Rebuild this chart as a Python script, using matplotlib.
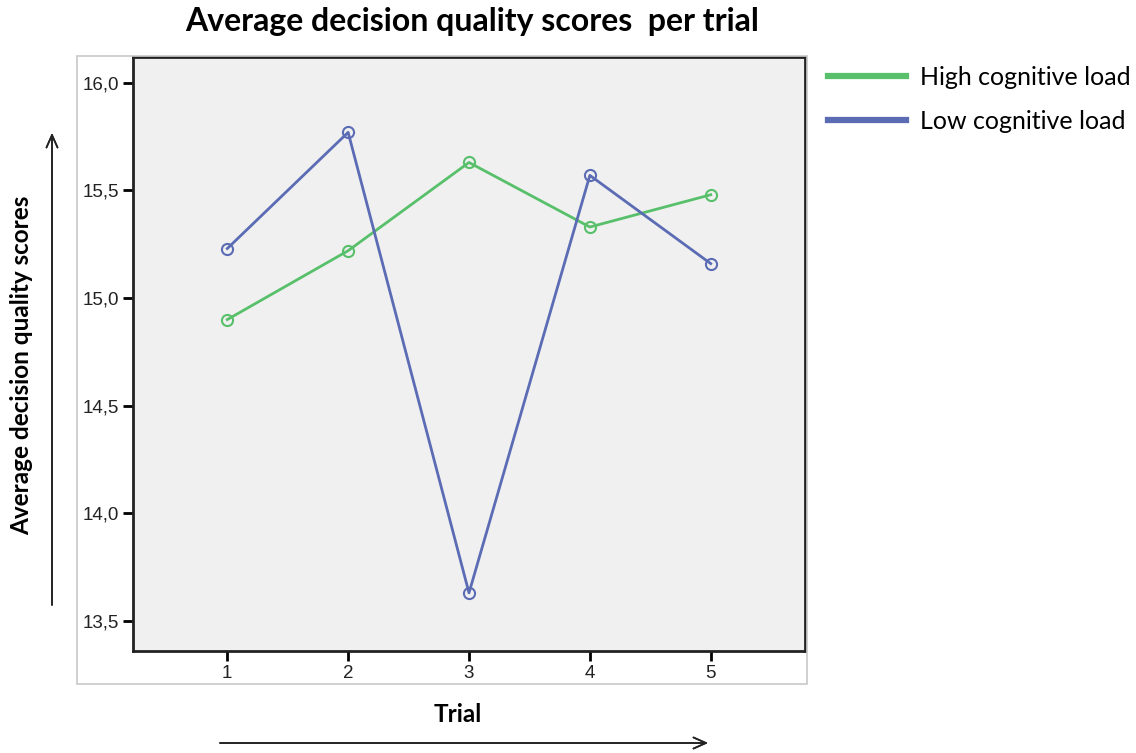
import numpy as np
import matplotlib.pyplot as plt
from matplotlib.patches import Rectangle

# Data
trials = [1, 2, 3, 4, 5]
high_load = [14.90, 15.22, 15.63, 15.33, 15.48]
low_load = [15.23, 15.77, 13.63, 15.57, 15.16]
yticks = [13.5, 14.0, 14.5, 15.0, 15.5, 16.0]
ytick_labels = ['13,5', '14,0', '14,5', '15,0', '15,5', '16,0']

green = '#58c06a'
blue = '#5b6cb5'

fig = plt.figure(figsize=(11.36, 7.53), dpi=100)
W, H = 1136, 753

# light outer frame (SPSS chart area)
fig.patches.append(Rectangle((77 / W, 1 - 684 / H), (807 - 77) / W, (684 - 56) / H,
                             transform=fig.transFigure, fill=False,
                             edgecolor='#c8c8c8', lw=1.2, zorder=0))

ax = fig.add_axes([133 / W, 1 - 651 / H, (805 - 133) / W, (651 - 57) / H])
ax.set_facecolor('#f0f0f0')

ax.plot(trials, high_load, color=green, lw=2, marker='o', ms=8,
        mfc='none', mec=green, mew=1.5, label='High cognitive load')
ax.plot(trials, low_load, color=blue, lw=2, marker='o', ms=8,
        mfc='none', mec=blue, mew=1.5, label='Low cognitive load')

ax.set_xlim(0.22, 5.78)
ax.set_ylim(13.36, 16.12)
ax.set_xticks(trials)
ax.set_yticks(yticks)
ax.set_yticklabels(ytick_labels)
ax.tick_params(axis='both', length=7, width=2, labelsize=13.5,
               labelcolor='#222222', pad=3)
for s in ax.spines.values():
    s.set_linewidth(2)
    s.set_color('#222222')
for lbl in ax.get_xticklabels() + ax.get_yticklabels():
    lbl.set_fontfamily('Liberation Sans')

# title and axis titles
fig.text(472 / W, 1 - 22 / H, 'Average decision quality scores  per trial',
         ha='center', va='center', fontsize=23, fontweight='bold', family='Lato')
fig.text(458 / W, 1 - 714 / H, 'Trial', ha='center', va='center',
         fontsize=17.5, fontweight='bold', family='Lato')
fig.text(22 / W, 1 - 365 / H, 'Average decision quality scores', ha='center',
         va='center', rotation=90, fontsize=17.5, fontweight='bold', family='Lato')

# arrows beside the axis titles
arrow = dict(arrowstyle='->,head_length=0.9,head_width=0.4', lw=1.2,
             color='#222222', shrinkA=0, shrinkB=0)
fig.add_artist(plt.annotate('', xy=(52 / W, 1 - 133 / H), xytext=(52 / W, 1 - 605 / H),
                            xycoords='figure fraction', arrowprops=arrow))
fig.add_artist(plt.annotate('', xy=(708 / W, 1 - 743 / H), xytext=(220 / W, 1 - 743 / H),
                            xycoords='figure fraction', arrowprops=arrow))

handles, labels = ax.get_legend_handles_labels()
leg = fig.legend(handles, labels, loc='upper left', bbox_to_anchor=(828 / W, 1 - 66 / H),
                 frameon=False, handlelength=3.1, handletextpad=0.6, labelspacing=0.83,
                 borderpad=0, borderaxespad=0,
                 prop={'family': 'Lato', 'size': 18})
for h in leg.get_lines():
    h.set_linewidth(4.5)
    h.set_marker('')

fig.savefig('out.png', dpi=100)
